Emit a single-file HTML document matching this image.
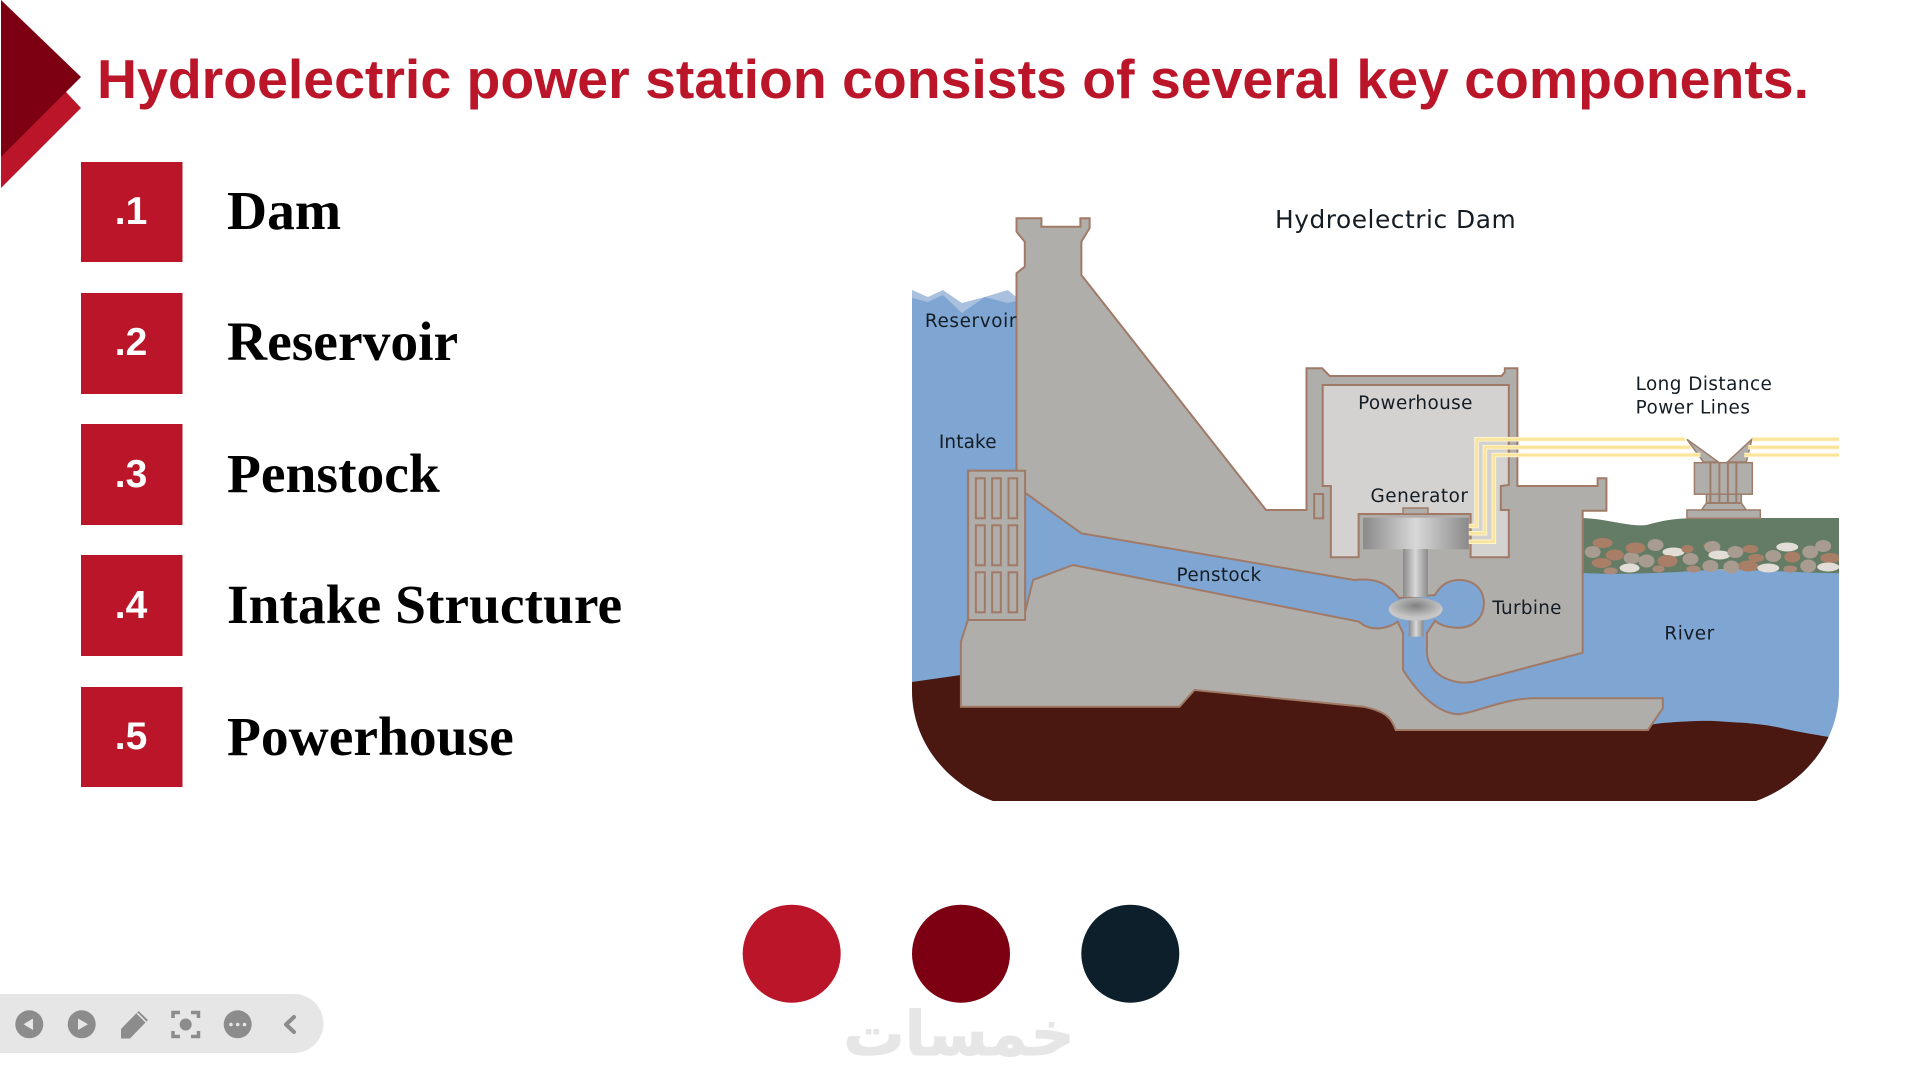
<!DOCTYPE html>
<html><head><meta charset="utf-8"><style>
html,body{margin:0;padding:0;background:#fff;width:1919px;height:1079px;overflow:hidden}
svg{display:block}
.d{font-family:"DejaVu Sans",sans-serif;font-size:18.5px;fill:#141c24}
.n{font-family:"Liberation Sans",sans-serif;font-weight:bold;font-size:39px;fill:#fff;text-anchor:middle}
.l{font-family:"Liberation Serif",serif;font-weight:bold;font-size:55.5px;fill:#000}
</style></head><body>
<svg width="1919" height="1079" viewBox="0 0 1919 1079" xmlns="http://www.w3.org/2000/svg">
<defs>
<clipPath id="f"><path d="M912,200 H1839 V690 C1839,745 1800,785 1756,801 H993 C950,785 912,745 912,690 Z"/></clipPath>
<linearGradient id="g1"><stop offset="0" stop-color="#8a8a8a"/><stop offset=".5" stop-color="#d8d8d8"/><stop offset="1" stop-color="#8a8a8a"/></linearGradient>
<radialGradient id="g2" cy=".35"><stop offset="0" stop-color="#808080"/><stop offset="1" stop-color="#c6c6c6"/></radialGradient>
</defs>
<polygon points="1,32 66,92 81,108 1,188" fill="#ba1529"/>
<polygon points="1,0 81,77 1,157" fill="#7c0012"/>
<text x="97" y="98" font-family="'Liberation Sans',sans-serif" font-weight="bold" font-size="55" fill="#ba1529" textLength="1712" lengthAdjust="spacingAndGlyphs">Hydroelectric power station consists of several key components.</text>

<g fill="#ba1529">
<rect x="81" y="162" width="101.500" height="100"/><rect x="81" y="293" width="101.500" height="101"/><rect x="81" y="424" width="101.500" height="101"/><rect x="81" y="555" width="101.500" height="101"/><rect x="81" y="687" width="101.500" height="100"/>
</g>
<text class="n" x="131" y="224">.1</text><text class="n" x="131" y="355">.2</text><text class="n" x="131" y="487">.3</text><text class="n" x="131" y="618">.4</text><text class="n" x="131" y="749">.5</text>
<text class="l" x="227" y="229">Dam</text><text class="l" x="227" y="360">Reservoir</text><text class="l" x="227" y="492">Penstock</text><text class="l" x="227" y="623">Intake Structure</text><text class="l" x="227" y="755">Powerhouse</text>

<g clip-path="url(#f)">
<g transform="translate(912 0) scale(0.998 1) translate(-912 0)">
<polygon points="912,290 928,297 943,290 962,303 985,297 1008,290 1020,300 1020,400 912,400" fill="#a9c1de"/>
<polygon points="912,298 928,302 943,295 962,313 985,297 1008,303 1020,300 1020,800 912,800" fill="#7fa5d2"/>
<path d="M1400,570 H1844 V800 H1400 Z" fill="#7fa5d2"/>
<path d="M912,682 L961,675 V700 H1180 L1195,685 L1365,700 L1385,705 L1400,725 H1650 L1664,723 C1690,721 1710,720 1727,721.700 C1750,723 1765,724 1783,728 C1800,732 1818,735 1844,739 V810 H912 Z" fill="#4a1810"/>
<path d="M1584,518 C1610,519 1630,527 1648,525 C1665,520 1680,518 1700,518 L1844,518 V573 C1810,574 1750,568 1709,570 C1670,573 1620,575 1584,573 Z" fill="#647c65"/>
<g>
<ellipse cx="1604" cy="543" rx="10" ry="5" fill="#a97e66"/><ellipse cx="1594" cy="552" rx="8" ry="6" fill="#a89b90"/><ellipse cx="1616" cy="555" rx="9" ry="5.500" fill="#a97e66"/><ellipse cx="1603" cy="563" rx="10" ry="5" fill="#a97e66"/><ellipse cx="1612" cy="571" rx="7" ry="3.500" fill="#a98a78"/><ellipse cx="1633" cy="558" rx="8" ry="6" fill="#a89b90"/><ellipse cx="1637" cy="548" rx="10" ry="5.500" fill="#a97e66"/><ellipse cx="1648" cy="561" rx="8" ry="6.500" fill="#a89b90"/><ellipse cx="1657" cy="545" rx="8" ry="6" fill="#a89b90"/><ellipse cx="1675" cy="552" rx="11" ry="4.500" fill="#e2ddd6"/><ellipse cx="1631" cy="568" rx="10" ry="4.500" fill="#e2ddd6"/><ellipse cx="1669" cy="561" rx="10" ry="6" fill="#a97e66"/><ellipse cx="1660" cy="569" rx="6" ry="3.500" fill="#a98a78"/><ellipse cx="1689" cy="549" rx="6" ry="4" fill="#a97e66"/><ellipse cx="1692" cy="559" rx="8" ry="6" fill="#a89b90"/><ellipse cx="1695" cy="569" rx="7" ry="3.500" fill="#a98a78"/><ellipse cx="1712" cy="546" rx="7" ry="4" fill="#a97e66"/><ellipse cx="1714" cy="547" rx="8" ry="6" fill="#a89b90"/><ellipse cx="1721" cy="555" rx="11" ry="4.500" fill="#e2ddd6"/><ellipse cx="1712" cy="566" rx="8" ry="6" fill="#a89b90"/><ellipse cx="1733" cy="567" rx="8" ry="6.500" fill="#a89b90"/><ellipse cx="1737" cy="552" rx="8" ry="6" fill="#a89b90"/><ellipse cx="1752" cy="549" rx="8" ry="4" fill="#a97e66"/><ellipse cx="1758" cy="558" rx="8" ry="4" fill="#a97e66"/><ellipse cx="1750" cy="566" rx="10" ry="5.500" fill="#a97e66"/><ellipse cx="1770" cy="568" rx="11" ry="4.500" fill="#e2ddd6"/><ellipse cx="1775" cy="556" rx="8" ry="6" fill="#a89b90"/><ellipse cx="1789" cy="547" rx="11" ry="4.500" fill="#e2ddd6"/><ellipse cx="1794" cy="557" rx="8" ry="5.500" fill="#a97e66"/><ellipse cx="1792" cy="569" rx="7" ry="3.500" fill="#a98a78"/><ellipse cx="1812" cy="552" rx="8" ry="6.500" fill="#a89b90"/><ellipse cx="1810" cy="566" rx="8" ry="6.500" fill="#a89b90"/><ellipse cx="1825" cy="546" rx="8" ry="6" fill="#a89b90"/><ellipse cx="1832" cy="558" rx="10" ry="5" fill="#a97e66"/><ellipse cx="1830" cy="567" rx="11" ry="4.500" fill="#e2ddd6"/>
</g>
<!-- transformer -->
<g fill="#b0aeab" stroke="#9d7c6a" stroke-width="1.500">
<polygon points="1688.500,439.300 1720,462 1705,462"/><polygon points="1753.500,439.300 1729,462 1748,462"/>
<path d="M1708,494 V503 L1703,510 H1748 L1743,503 V494 Z"/>
<rect x="1696" y="462.700" width="58" height="31.500"/>
<rect x="1688.500" y="510" width="73.500" height="8.300"/>
<path d="M1712,462.700 V503 M1721,462.700 V503 M1729.500,462.700 V503 M1738,462.700 V503" fill="none" stroke-width="2"/>
<path d="M1708,503 H1743" fill="none" stroke-width="2"/>
</g>
<!-- concrete -->
<path d="M1016.700,218.300 H1041.700 V226.700 H1080.700 V218.300 H1090 V228 L1081.700,241.700 V275 L1266.700,510 H1307.300 V368.300 H1323 L1330.500,376 H1502.600 L1506,372 V368.300 H1518.600 V486 H1599 V478.300 H1607.800 V510.700 H1584 V652.700 L1474.700,681.700 C1455,686 1428,675 1428,651.700 V633 L1404,633 V670 C1420,695 1440,714 1459.900,714.300 C1480,712 1505,698 1538,698.300 H1664.300 V708.300 L1649.400,730 H1396.700 C1392,718 1388,712 1364.700,706.700 L1195,690 L1180,706.700 H961 V641.700 L968,620 V470.700 H1016.700 V273.300 L1025,266.700 V241.700 L1016.700,231.700 Z" fill="#b0aeab" stroke="#a07a66" stroke-width="2"/>
<!-- powerhouse interior -->
<polygon points="1323.500,385 1510,385 1510,485 1502,486 1502,510 1510,510 1510,557.300 1471.700,557.300 1471.700,514 1359.500,514 1359.500,557.300 1331.700,557.300 1331.700,486 1323.500,486" fill="#d4d2d0" stroke="#a07a66" stroke-width="2"/>
<rect x="1315" y="494" width="9" height="24.300" fill="#b0aeab" stroke="#a07a66" stroke-width="2"/>
<!-- penstock -->
<path d="M1025.300,492.700 L1081.700,533.300 L1355,580 C1373,578 1388,581 1400,598 L1436,595 C1442,584 1450,580 1460,580 C1476,580 1485,590 1485,603 C1485,618 1474,627.700 1460,627.700 C1448,627.700 1441,625 1436,620.700 L1428,633 L1404,633 L1398.500,621.700 C1390,628 1373,633 1360,621.700 L1073.300,565 L1033.300,580 L1025.300,612 Z" fill="#7fa5d2" stroke="#a07a66" stroke-width="2"/>
<rect x="1405" y="625" width="22" height="16" fill="#7fa5d2"/>
<!-- intake -->
<rect x="968.300" y="470.700" width="57" height="149.300" fill="#b0aeab" stroke="#a07a66" stroke-width="2"/>
<g fill="none" stroke="#a07a66" stroke-width="2">
<rect x="976" y="478.300" width="9" height="40"/><rect x="992.300" y="478.300" width="8.700" height="40"/><rect x="1008.700" y="478.300" width="8.700" height="40"/>
<rect x="976" y="525.300" width="9" height="40"/><rect x="992.300" y="525.300" width="8.700" height="40"/><rect x="1008.700" y="525.300" width="8.700" height="40"/>
<rect x="976" y="572.300" width="9" height="40"/><rect x="992.300" y="572.300" width="8.700" height="40"/><rect x="1008.700" y="572.300" width="8.700" height="40"/>
</g>
<!-- generator/turbine -->
<rect x="1404" y="508" width="25" height="6" fill="#b0aeab" stroke="#a07a66" stroke-width="1.500"/>
<rect x="1364" y="517.700" width="106" height="31.600" fill="url(#g1)"/>
<rect x="1404" y="549" width="25" height="48" fill="url(#g1)"/>
<rect x="1409.700" y="618" width="14.800" height="18.700" fill="url(#g1)"/>
<ellipse cx="1416.700" cy="609.300" rx="27" ry="11.500" fill="url(#g2)"/>
<!-- wires -->
<g fill="none" stroke="#fff6d6" stroke-width="4.500">
<path d="M1470,526 H1477.700 V439.300 H1686.600 M1754,439.300 H1844"/>
<path d="M1470,533.300 H1486 V447.300 H1692 M1750,447.300 H1844"/>
<path d="M1470,541.700 H1495 V455 H1702 M1746,455 H1844"/>
</g>
<g fill="none" stroke="#fbe59c" stroke-width="2.800">
<path d="M1470,526 H1477.700 V439.300 H1686.600 M1754,439.300 H1844"/>
<path d="M1470,533.300 H1486 V447.300 H1692 M1750,447.300 H1844"/>
<path d="M1470,541.700 H1495 V455 H1702 M1746,455 H1844"/>
</g>
</g>
</g>
<g transform="translate(912 0) scale(0.9946 1) translate(-912 0)">
<text class="d" x="1277" y="228" style="font-size:25px" textLength="242">Hydroelectric Dam</text>
<text class="d" x="925" y="327" textLength="92">Reservoir</text>
<text class="d" x="939" y="448" textLength="58">Intake</text>
<text class="d" x="1178" y="581" textLength="85">Penstock</text>
<text class="d" x="1360.500" y="409" textLength="115">Powerhouse</text>
<text class="d" x="1373" y="502" textLength="98">Generator</text>
<text class="d" x="1495.500" y="614" textLength="69.500">Turbine</text>
<text class="d" x="1668.500" y="639.500" textLength="50">River</text>
<text class="d" x="1639.500" y="390" textLength="137">Long Distance</text>
<text class="d" x="1639.500" y="413.500" textLength="115">Power Lines</text>
</g>

<circle cx="791.700" cy="953.700" r="49" fill="#ba1529"/>
<circle cx="961" cy="953.700" r="49" fill="#7c0012"/>
<circle cx="1130.300" cy="953.700" r="49" fill="#0c1f2a"/>

<text x="959" y="1055" text-anchor="middle" direction="rtl" font-family="'DejaVu Sans',sans-serif" font-weight="bold" font-size="61" fill="#e6e6e6" stroke="#e6e6e6" stroke-width="1">خمسات</text>

<path d="M0,994 H294 A29.500,29.500 0 0 1 294,1053 H0 Z" fill="#e6e6e6"/>
<g fill="#8c8c8c">
<circle cx="29.300" cy="1024.300" r="14"/><circle cx="81.700" cy="1024.300" r="14"/><circle cx="237.700" cy="1024.300" r="14"/><circle cx="185.700" cy="1024.500" r="6"/>
<polygon points="121,1038.500 121,1029 138.500,1011 148,1020 130,1038.500"/>
</g>
<polygon points="23.500,1024.300 33,1018.500 33,1030" fill="#e6e6e6"/>
<polygon points="88,1024.300 78,1018.500 78,1030" fill="#e6e6e6"/>
<path d="M137,1013 L146,1022" stroke="#e6e6e6" stroke-width="1.500"/>
<g fill="#e6e6e6"><circle cx="231" cy="1024.500" r="1.800"/><circle cx="237.700" cy="1024.500" r="1.800"/><circle cx="244.500" cy="1024.500" r="1.800"/></g>
<g fill="none" stroke="#8c8c8c" stroke-width="3.500">
<path d="M173,1018 V1012.500 H180 M191,1012.500 H198.500 V1018 M198.500,1031 V1036.500 H191 M180,1036.500 H173 V1031"/>
</g>
<path d="M294,1017 L286,1024.500 L294,1032" fill="none" stroke="#8c8c8c" stroke-width="4" stroke-linecap="round" stroke-linejoin="round"/>
</svg>
</body></html>
